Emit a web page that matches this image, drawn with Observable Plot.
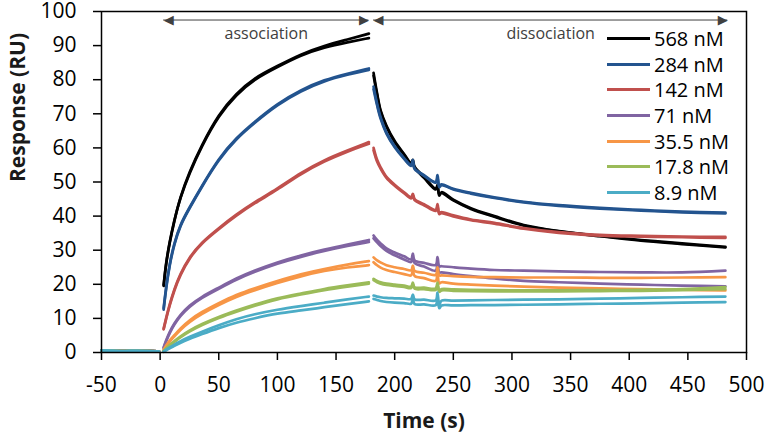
<!DOCTYPE html>
<html>
<head>
<meta charset="utf-8">
<script src="https://cdn.jsdelivr.net/npm/d3@7"></script>
<script src="https://cdn.jsdelivr.net/npm/@observablehq/plot@0.6"></script>
<style>
  body { margin: 0; background: white; }
  #chart { position: relative; width: 767px; height: 442px; }
  #legend { position: absolute; left: 607px; top: 26px; font: 20px "Open Sans", sans-serif; color: black; }
  #legend .row { display: flex; align-items: center; height: 25.6px; }
  #legend .sw { display: inline-block; width: 43px; height: 3px; margin-right: 4px; }
</style>
</head>
<body>
<div id="chart"></div>
<script>
const concentrations = ["568 nM", "284 nM", "142 nM", "71 nM", "35.5 nM", "17.8 nM", "8.9 nM"];
const colors = ["#000000", "#23548f", "#c0504d", "#8064a2", "#f79646", "#9bbb59", "#4bacc6"];

// baseline before injection, shared by all runs
const baseTime = [-50, -40, -30, -20, -10, -1];
const baseResp = [0.6, 0.5, 0.4, 0.5, 0.4, 0.3];

const assocTime = [3, 5, 8, 12, 17, 25, 35, 50, 65, 80, 100, 120, 140, 160, 178];
const dissocTime = [182, 185, 188, 193, 200, 208, 214, 215.5, 217, 225, 235, 236.5, 238, 240, 250, 265, 285, 310, 340, 375, 410, 445, 482];

// two runs per concentration
const assoc568 = [
  [19.5, 26, 32, 38.5, 45.5, 53, 60.5, 70, 76, 80.5, 84, 87.5, 90, 91.8, 93.5],
  [19.8, 26.3, 32.3, 38.8, 45.3, 52.6, 60.2, 69.6, 75.6, 80.1, 83.7, 87.2, 89.5, 91, 92.2]
];
const dissoc568 = [
  [82, 76, 71, 66.5, 62, 58.2, 55.5, 56.5, 54.5, 51.5, 48, 48.5, 46, 47, 44.8, 42.3, 40, 37.4, 35.6, 34.2, 33, 32, 31],
  [81.2, 75.5, 70.6, 66.2, 61.7, 58, 55.2, 55.8, 54.2, 51.2, 47.8, 49.2, 46.5, 46.8, 44.6, 42.1, 39.8, 37.2, 35.5, 34.1, 32.8, 31.8, 30.8]
];
const assoc284 = [
  [13, 19, 26, 32, 37.5, 42.5, 48.5, 57, 63, 67.5, 73, 77, 80, 81.8, 83.3],
  [12.6, 18.6, 25.6, 31.7, 37.2, 42.3, 48.3, 56.7, 62.7, 67.2, 72.7, 76.7, 79.7, 81.5, 82.9]
];
const dissoc284 = [
  [78, 73, 69, 64.5, 60.5, 57, 55, 56.5, 54, 52, 50, 52, 49, 49.3, 48, 46.8, 45.5, 44.2, 43.2, 42.4, 41.8, 41.3, 41],
  [77.2, 72.5, 68.6, 64.2, 60.2, 56.8, 54.7, 55.8, 53.8, 51.8, 49.8, 51.2, 48.5, 49.1, 47.8, 46.6, 45.3, 44, 43, 42.2, 41.6, 41.1, 40.8]
];
const assoc142 = [
  [7, 10, 14, 18.5, 23, 28, 32.2, 36.5, 40.5, 44, 48, 52.8, 56.5, 59.3, 61.7],
  [6.8, 9.7, 13.7, 18.2, 22.7, 27.7, 32, 36.2, 40.2, 43.7, 47.7, 52.4, 56.1, 59, 61.2]
];
const dissoc142 = [
  [60, 56.5, 54.3, 51.5, 49.2, 47, 45.5, 46.5, 45, 43.5, 41.8, 43.5, 41, 41.2, 40.2, 39, 38, 36.5, 35.3, 34.5, 34.2, 34, 33.9],
  [59.3, 56, 53.9, 51.2, 48.9, 46.7, 45.2, 46, 44.7, 43.2, 41.5, 42.8, 40.6, 40.9, 39.9, 38.8, 37.8, 36.3, 35.1, 34.3, 34, 33.8, 33.6]
];
const assoc71 = [
  [1.5, 3.5, 6, 8.5, 11, 13.8, 16.3, 19, 21.8, 24, 26.5, 28.5, 30.2, 31.7, 33],
  [1.3, 3.2, 5.7, 8.2, 10.7, 13.5, 16, 18.7, 21.4, 23.6, 26.1, 28.1, 29.8, 31.3, 32.4]
];
const dissoc71 = [
  [34.3, 33, 32, 30.5, 29.3, 28.2, 27.3, 29, 27, 26.3, 25.7, 28, 25.3, 25.3, 25, 24.6, 24.2, 24, 23.8, 23.6, 23.5, 23.5, 24],
  [33.5, 32.3, 31.2, 29.8, 28.5, 27.3, 26.5, 27.8, 26.2, 25.2, 24, 26.5, 23.5, 23.5, 23, 22.4, 21.7, 21, 20.6, 20.2, 19.9, 19.6, 19.4]
];
const assoc35 = [
  [0.8, 2, 3.5, 5, 7, 9.5, 11.8, 14.5, 17, 18.8, 21, 23, 24.5, 25.8, 26.8],
  [0.7, 1.8, 3.2, 4.7, 6.6, 9, 11.3, 14, 16.4, 18.2, 20.4, 22.4, 24, 25, 25.6]
];
const dissoc35 = [
  [27.9, 27, 26.4, 25.6, 25, 24.5, 24.1, 25.5, 23.9, 23.4, 22.8, 25, 22.6, 22.6, 22.4, 22.2, 22.1, 22, 22, 21.9, 21.9, 22, 22.1],
  [26.5, 25.6, 24.9, 24.2, 23.6, 23, 22.6, 24, 22.4, 21.8, 21, 23, 20.3, 20.6, 20.2, 19.9, 19.6, 19.3, 19, 18.8, 18.6, 18.4, 18.2]
];
const assoc17 = [
  [0.5, 1.2, 2.2, 3.3, 4.7, 6.5, 8.3, 10.5, 12.3, 14, 16, 17.3, 18.7, 19.7, 20.6],
  [0.4, 1, 2, 3, 4.4, 6.2, 8, 10.2, 12, 13.7, 15.7, 17, 18.3, 19.3, 20.2]
];
const dissoc17 = [
  [21.6, 21, 20.6, 20.2, 19.9, 19.6, 19.3, 20.5, 19.1, 19, 18.8, 20.5, 18.2, 18.6, 18.5, 18.4, 18.3, 18.2, 18.2, 18.3, 18.4, 18.6, 19.2],
  [21.2, 20.6, 20.2, 19.8, 19.5, 19.2, 18.9, 20, 18.7, 18.6, 18.4, 19.8, 17.8, 18.2, 18.1, 18, 17.9, 17.9, 17.9, 18, 18.1, 18.3, 18.6]
];
const assoc8 = [
  [0.3, 0.8, 1.5, 2.3, 3.3, 4.6, 6, 8, 9.8, 11.2, 12.6, 13.6, 14.6, 15.6, 16.4],
  [0.2, 0.6, 1.2, 1.9, 2.8, 4, 5.3, 7.2, 8.8, 10, 11.5, 12.3, 13.3, 14.2, 15]
];
const dissoc8 = [
  [16.7, 16.4, 16.2, 16, 15.9, 15.8, 15.7, 17, 15.6, 15.5, 15.3, 17.6, 14, 15.2, 15.2, 15.3, 15.4, 15.5, 15.6, 15.8, 16, 16.2, 16.4],
  [15.7, 15.4, 15.1, 14.8, 14.6, 14.5, 14.3, 15.5, 14.2, 14.1, 13.9, 16, 13, 13.8, 13.8, 13.9, 13.9, 14, 14.1, 14.3, 14.4, 14.6, 14.8]
];

const phases = [
  {name: "association", start: 3, end: 178},
  {name: "dissociation", start: 182, end: 484}
];

const assocRuns = [assoc568, assoc284, assoc142, assoc71, assoc35, assoc17, assoc8];
const dissocRuns = [dissoc568, dissoc284, dissoc142, dissoc71, dissoc35, dissoc17, dissoc8];

const rows = [];
concentrations.forEach((conc, i) => {
  [0, 1].forEach(r => {
    baseTime.forEach((t, j) => rows.push({conc, phase: "base", key: `${conc}-${r}-base`, t, v: baseResp[j]}));
    assocTime.forEach((t, j) => rows.push({conc, phase: "assoc", key: `${conc}-${r}-assoc`, t, v: assocRuns[i][r][j]}));
    dissocTime.forEach((t, j) => rows.push({conc, phase: "dissoc", key: `${conc}-${r}-dissoc`, t, v: dissocRuns[i][r][j]}));
  });
});

const arrowY = 97.5;
const labelY = 93.5;
const grey = "#404040";

const chart = Plot.plot({
  width: 767,
  height: 442,
  marginLeft: 101,
  marginRight: 21,
  marginTop: 11,
  marginBottom: 90,
  style: {fontFamily: "'Open Sans', sans-serif", fontSize: "21px", color: "black", background: "white", overflow: "visible"},
  x: {domain: [-50, 500]},
  y: {domain: [0, 100]},
  color: {domain: concentrations, range: colors},
  marks: [
    Plot.line(rows, {filter: d => d.phase !== "dissoc", x: "t", y: "v", z: "key", stroke: "conc", strokeWidth: 2.7, curve: "basis"}),
    Plot.line(rows, {filter: d => d.phase === "dissoc", x: "t", y: "v", z: "key", stroke: "conc", strokeWidth: 2.7, curve: "catmull-rom"}),
    Plot.frame({stroke: "black", strokeWidth: 1.5}),
    Plot.axisX({ticks: d3.range(-50, 501, 50), tickFormat: d => String(d), tickSize: 8, tickPadding: 17, strokeWidth: 1.5, fontSize: 21, label: null}),
    Plot.axisY({ticks: d3.range(0, 101, 10), tickFormat: d => String(d), tickSize: 8, tickPadding: 17, strokeWidth: 1.5, fontSize: 21, label: null}),
    // phase arrows
    Plot.ruleY(phases, {y: arrowY, x1: "start", x2: "end", stroke: grey, strokeWidth: 1}),
    Plot.text(phases, {x: "start", y: arrowY, text: () => "\u25C0", textAnchor: "start", fill: grey, fontSize: 13, fontFamily: "DejaVu Sans"}),
    Plot.text(phases, {x: "end", y: arrowY, text: () => "\u25B6", textAnchor: "end", fill: grey, fontSize: 13, fontFamily: "DejaVu Sans"}),
    Plot.text(phases, {x: d => (d.start + d.end) / 2, y: labelY, text: "name", fill: grey, fontSize: 16}),
    // axis titles
    Plot.text(["Time (s)"], {frameAnchor: "bottom", dy: 75, text: d => d, fontWeight: "bold", fontSize: 21, fill: "#1a1a1a"}),
    Plot.text(["Response (RU)"], {frameAnchor: "left", dx: -83, rotate: -90, text: d => d, fontWeight: "bold", fontSize: 21, fill: "#1a1a1a"})
  ]
});

document.getElementById("chart").append(chart);

const legend = document.createElement("div");
legend.id = "legend";
concentrations.forEach((c, i) => {
  const row = document.createElement("div");
  row.className = "row";
  const sw = document.createElement("span");
  sw.className = "sw";
  sw.style.background = colors[i];
  row.append(sw, document.createTextNode(c));
  legend.append(row);
});
document.getElementById("chart").append(legend);
</script>
</body>
</html>
